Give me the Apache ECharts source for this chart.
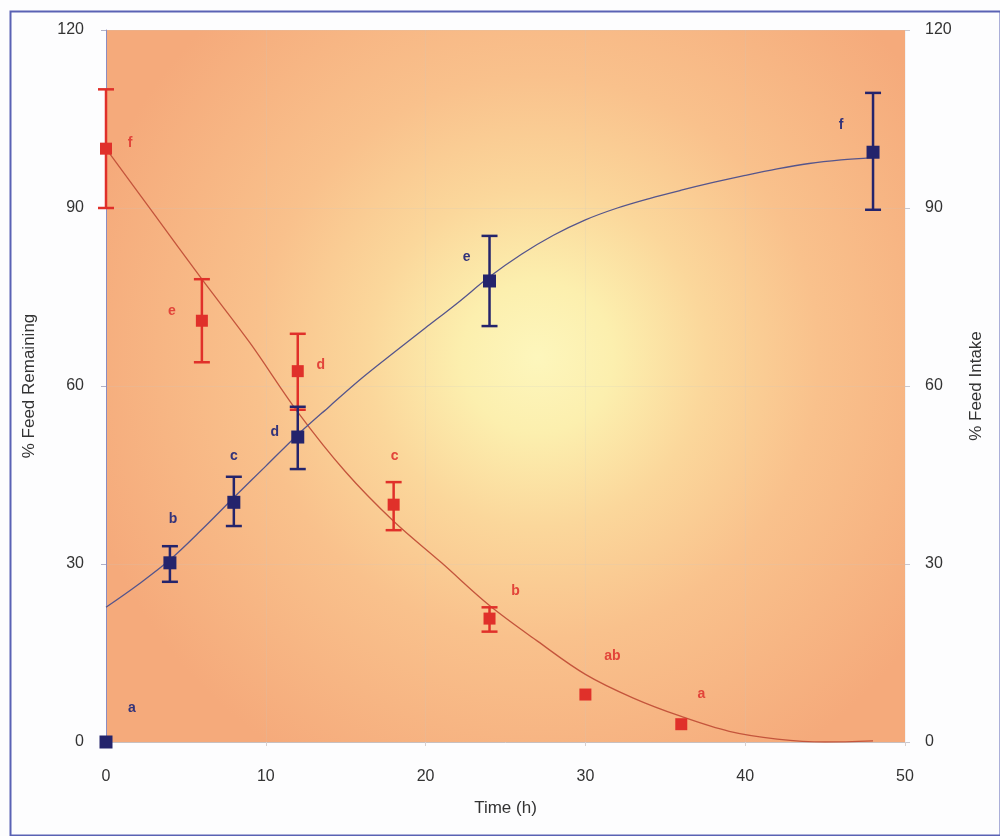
<!DOCTYPE html>
<html>
<head>
<meta charset="utf-8">
<script src="https://cdn.jsdelivr.net/npm/echarts@6/dist/echarts.min.js"></script>
<style>html,body{margin:0;padding:0;background:#fff}#c{width:1000px;height:836px}</style>
</head>
<body>
<div id="c"></div>
<script>
// ---- data ----
var xTicks = [0, 10, 20, 30, 40, 50];
var yTicks = [0, 30, 60, 90, 120];

var remainTime = [0, 6, 12, 18, 24, 30, 36];
var remainMean = [100, 71, 62.5, 40, 20.8, 8, 3];
var remainLow  = [90, 64, 56, 35.7, 18.6, 8, 3];
var remainHigh = [110, 78, 68.8, 43.8, 22.7, 8, 3];
var remainLetters = ['f', 'e', 'd', 'c', 'b', 'ab', 'a'];

var intakeTime = [0, 4, 8, 12, 24, 48];
var intakeMean = [0, 30.2, 40.4, 51.4, 77.7, 99.4];
var intakeLow  = [0, 27, 36.4, 46, 70.1, 89.7];
var intakeHigh = [0, 33, 44.7, 56.5, 85.3, 109.4];
var intakeLetters = ['a', 'b', 'c', 'd', 'e', 'f'];

var fitTimeR = [0, 3, 6, 9, 12, 15, 18, 21, 24, 27, 30, 33, 36, 39, 42, 45, 48];
var fitRemain = [100, 89, 78, 67.3, 55.6, 45.5, 37.2, 30.2, 23, 17, 11.4, 7.4, 4.3, 1.8, 0.5, 0, 0.2];

var fitTimeI = [0, 2, 4, 6, 8, 10, 12, 14, 16, 18, 20, 22, 24, 26, 28, 30, 32, 34, 36, 38, 40, 42, 44, 46, 48];
var fitIntake = [22.7, 26.5, 30.7, 35.8, 41.2, 46.5, 51.8, 56.6, 61.3, 65.6, 69.8, 74, 78.4, 82.2, 85.4, 88, 90, 91.6, 93, 94.3, 95.5, 96.6, 97.5, 98.1, 98.5];

// ---- styles (label offsets in px) ----
var remainOffsets = [[24, -6], [-30, -10], [23, -6], [1, -49], [26, -27], [27, -38], [20, -30]];
var intakeOffsets = [[26, -34], [3, -44], [0, -46], [-23, -5], [-23, -24], [-32, -27]];

var RED = '#e0302a', RED_LINE = '#c4553c';
var BLUE = '#24246c', BLUE_LINE = '#55558c';
var FONT = 'Liberation Sans, Arial, sans-serif';

function zip2(a, b) { return a.map(function (v, i) { return [v, b[i]]; }); }
function zip3(a, b, c) { return a.map(function (v, i) { return [v, b[i], c[i]]; }); }

function errRender(color, capHalf) {
  return function (params, api) {
    var x = api.value(0), lo = api.value(1), hi = api.value(2);
    if (hi - lo <= 0) { return { type: 'group', children: [] }; }
    var pLo = api.coord([x, lo]), pHi = api.coord([x, hi]);
    var st = { stroke: color, lineWidth: 2.5 };
    return {
      type: 'group', children: [
        { type: 'line', shape: { x1: pLo[0], y1: pLo[1], x2: pHi[0], y2: pHi[1] }, style: st },
        { type: 'line', shape: { x1: pHi[0] - capHalf, y1: pHi[1], x2: pHi[0] + capHalf, y2: pHi[1] }, style: st },
        { type: 'line', shape: { x1: pLo[0] - capHalf, y1: pLo[1], x2: pLo[0] + capHalf, y2: pLo[1] }, style: st }
      ]
    };
  };
}

function markerData(times, means, letters, offsets) {
  return times.map(function (t, i) {
    return { value: [t, means[i]], name: letters[i], label: { offset: offsets[i] } };
  });
}

var chart = echarts.init(document.getElementById('c'), null, { renderer: 'canvas' });

var option = {
  backgroundColor: '#fdfdfe',
  animation: false,
  graphic: [{
    type: 'rect', left: 8, top: 9, shape: { width: 990, height: 824 },
    style: { fill: 'none', stroke: '#5a62b4', lineWidth: 2 }, z: -1
  }],
  grid: {
    left: 106, right: 95, top: 30, bottom: 94,
    show: true, borderWidth: 0,
    backgroundColor: {
      type: 'radial', x: 0.54, y: 0.46, r: 0.66,
      colorStops: [
        { offset: 0, color: '#fdf6bc' },
        { offset: 0.16, color: '#fcefae' },
        { offset: 0.36, color: '#fbd79b' },
        { offset: 0.6, color: '#f9c18c' },
        { offset: 1, color: '#f5aa7b' }
      ]
    }
  },
  xAxis: {
    type: 'value', min: 0, max: 50, interval: 10,
    name: 'Time (h)', nameLocation: 'middle', nameGap: 58,
    nameTextStyle: { fontFamily: FONT, fontSize: 17, color: '#333' },
    axisLine: { show: true, lineStyle: { color: '#c8c0c0', width: 1 } },
    axisTick: { show: true, inside: false, length: 4, lineStyle: { color: '#d8d0d0' } },
    axisLabel: { margin: 27, fontFamily: FONT, fontSize: 16, color: '#333' },
    splitLine: { show: true, lineStyle: { color: 'rgba(200,200,200,0.18)', width: 1 } }
  },
  yAxis: [{
    type: 'value', min: 0, max: 120, interval: 30, position: 'left',
    name: '% Feed Remaining', nameLocation: 'middle', nameGap: 68, nameRotate: 90,
    nameTextStyle: { fontFamily: FONT, fontSize: 17, color: '#333' },
    axisLine: { show: true, lineStyle: { color: '#8c8cc0', width: 1 } },
    axisTick: { show: true, inside: false, length: 5, lineStyle: { color: '#b0b0c8' } },
    axisLabel: { margin: 22, fontFamily: FONT, fontSize: 16, color: '#333', padding: [0, 0, 7, 0] },
    splitLine: { show: true, lineStyle: { color: 'rgba(200,200,200,0.18)', width: 1 } }
  }, {
    type: 'value', min: 0, max: 120, interval: 30, position: 'right',
    name: '% Feed Intake', nameLocation: 'middle', nameGap: 63, nameRotate: 90,
    nameTextStyle: { fontFamily: FONT, fontSize: 17, color: '#333' },
    axisLine: { show: false },
    axisTick: { show: true, inside: false, length: 5, lineStyle: { color: '#c8c8d0' } },
    axisLabel: { margin: 20, fontFamily: FONT, fontSize: 16, color: '#333', padding: [0, 0, 7, 0] },
    splitLine: { show: false }
  }],
  series: [
    {
      type: 'line', yAxisIndex: 0, data: zip2(fitTimeR, fitRemain), smooth: 0.35,
      showSymbol: false, symbol: 'none', lineStyle: { color: RED_LINE, width: 1.3 }, z: 2, silent: true
    },
    {
      type: 'line', yAxisIndex: 1, data: zip2(fitTimeI, fitIntake), smooth: 0.35,
      showSymbol: false, symbol: 'none', lineStyle: { color: BLUE_LINE, width: 1.3 }, z: 2, silent: true
    },
    {
      type: 'custom', yAxisIndex: 0, data: zip3(remainTime, remainLow, remainHigh),
      encode: { x: 0, y: [1, 2] }, renderItem: errRender(RED, 8), clip: false, z: 3
    },
    {
      type: 'custom', yAxisIndex: 1, data: zip3(intakeTime, intakeLow, intakeHigh),
      encode: { x: 0, y: [1, 2] }, renderItem: errRender(BLUE, 8), clip: false, z: 3
    },
    {
      type: 'scatter', yAxisIndex: 0, symbol: 'rect', symbolSize: 12, clip: false, z: 4,
      itemStyle: { color: RED, opacity: 1 },
      data: markerData(remainTime, remainMean, remainLetters, remainOffsets),
      label: {
        show: true, position: 'inside', formatter: '{b}',
        fontFamily: FONT, fontSize: 14, fontWeight: 'bold', color: '#e2443a'
      }
    },
    {
      type: 'scatter', yAxisIndex: 1, symbol: 'rect', symbolSize: 13, clip: false, z: 4,
      itemStyle: { color: BLUE, opacity: 1 },
      data: markerData(intakeTime, intakeMean, intakeLetters, intakeOffsets),
      label: {
        show: true, position: 'inside', formatter: '{b}',
        fontFamily: FONT, fontSize: 14, fontWeight: 'bold', color: '#33337a'
      }
    }
  ]
};
chart.setOption(option);
</script>
</body>
</html>
